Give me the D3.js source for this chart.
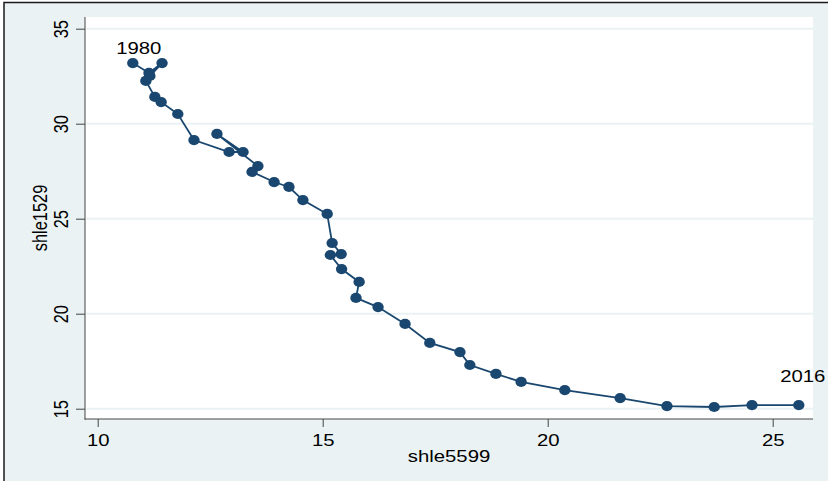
<!DOCTYPE html>
<html>
<head>
<meta charset="utf-8">
<script src="https://cdn.jsdelivr.net/npm/d3@7"></script>
<style>
body { margin: 0; background: #fff; }
text { font-family: "Liberation Sans", Arial, sans-serif; }
</style>
</head>
<body>
<div id="chart"></div>
<script>
// in data order (first point = 1980, last = 2016)
var shle5599 = [10.78, 11.14, 11.43, 11.16, 11.07, 11.27, 11.41, 11.78, 12.14, 12.92,
    13.23, 12.65, 13.56, 13.43, 13.92, 14.25, 14.56, 15.10, 15.21, 15.41,
    15.17, 15.42, 15.81, 15.74, 16.23, 16.83, 17.38, 18.05, 18.27, 18.85,
    19.41, 20.38, 21.61, 22.65, 23.70, 24.54, 25.58];
var shle1529 = [33.19, 32.67, 33.19, 32.51, 32.25, 31.41, 31.14, 30.51, 29.14, 28.51,
    28.51, 29.46, 27.77, 27.46, 26.93, 26.67, 25.98, 25.25, 23.72, 23.14,
    23.09, 22.35, 21.67, 20.83, 20.35, 19.46, 18.46, 17.98, 17.30, 16.83,
    16.41, 15.98, 15.56, 15.14, 15.09, 15.19, 15.19];
var firstYear = "1980";
var lastYear = "2016";
var xTicks = [10, 15, 20, 25];
var yTicks = [15, 20, 25, 30, 35];

var stretch = 1.24; // the picture is wider than it is tall
var navy = "#1a476f";
var fontSize = 16.4;

var svg = d3.select("#chart")
    .append("svg")
    .attr("width", 828)
    .attr("height", 481);

// graph region with its frame (cut off at right and bottom)
svg.append("rect")
    .attr("x", 4).attr("y", 2.5)
    .attr("width", 900).attr("height", 600)
    .attr("fill", "#eaf2f3")
    .attr("stroke", "#1a1a1a")
    .attr("stroke-width", 1.5);

// plot region
svg.append("rect")
    .attr("x", 85).attr("y", 17)
    .attr("width", 728).attr("height", 402)
    .attr("fill", "#fff");

var x = d3.scaleLinear().domain([10, 25]).range([97.7, 772.7]);
var y = d3.scaleLinear().domain([15, 35]).range([408.7, 28.7]);

// grid lines
svg.selectAll(".grid")
    .data(yTicks)
    .enter().append("line")
    .attr("class", "grid")
    .attr("x1", 86).attr("x2", 813)
    .attr("y1", d => y(d)).attr("y2", d => y(d))
    .attr("stroke", "#eaf2f3")
    .attr("stroke-width", 2);

// x axis
var xAxis = svg.append("g")
    .attr("transform", "translate(0,419)")
    .call(d3.axisBottom(x).tickValues(xTicks).tickSize(8).tickSizeOuter(0));
xAxis.select(".domain").remove();
xAxis.selectAll("line").attr("stroke", "#444");
xAxis.selectAll("text")
    .attr("y", 27).attr("dy", null)
    .attr("font-size", fontSize)
    .attr("fill", "#000")
    .attr("text-anchor", "middle")
    .attr("transform", "scale(" + stretch + ",1)");

// y axis
var yAxis = svg.append("g")
    .attr("transform", "translate(85,0)")
    .call(d3.axisLeft(y).tickValues(yTicks).tickSize(9).tickSizeOuter(0));
yAxis.select(".domain").remove();
yAxis.selectAll("line").attr("stroke", "#444");
yAxis.selectAll("text")
    .attr("x", 0).attr("y", -17 / stretch).attr("dy", null)
    .attr("font-size", fontSize)
    .attr("fill", "#000")
    .attr("text-anchor", "middle")
    .attr("transform", "scale(" + stretch + ",1) rotate(-90)");

// axis lines
svg.append("line")
    .attr("x1", 85).attr("x2", 85).attr("y1", 17).attr("y2", 419.5)
    .attr("stroke", "#444");
svg.append("line")
    .attr("x1", 84.5).attr("x2", 813).attr("y1", 419).attr("y2", 419)
    .attr("stroke", "#444");

// axis titles
svg.append("text")
    .attr("transform", "translate(449,462) scale(" + stretch + ",1)")
    .attr("text-anchor", "middle")
    .attr("font-size", fontSize)
    .text("shle5599");
svg.append("text")
    .attr("transform", "translate(47,218) scale(" + stretch + ",1) rotate(-90)")
    .attr("text-anchor", "middle")
    .attr("font-size", fontSize)
    .text("shle1529");

// connected scatter
var points = shle5599.map(function (v, i) {
    return { sx: v, sy: shle1529[i] };
});

var line = d3.line()
    .x(function(d) { return x(d.sx); })
    .y(function(d) { return y(d.sy); });

svg.append("path")
    .datum(points)
    .attr("d", line)
    .attr("stroke", navy)
    .attr("stroke-width", 1.8)
    .attr("fill", "none");

svg.selectAll(".dot")
    .data(points)
    .enter().append("ellipse")
    .attr("class", "dot")
    .attr("cx", d => x(d.sx))
    .attr("cy", d => y(d.sy))
    .attr("rx", 5.7)
    .attr("ry", 5.1)
    .attr("fill", navy);

// year labels on the first and last point
var first = points[0], last = points[points.length - 1];
svg.append("text")
    .attr("transform", "translate(" + (x(first.sx) + 6) + "," + (y(first.sy) - 9) + ") scale(" + stretch + ",1)")
    .attr("text-anchor", "middle")
    .attr("font-size", fontSize)
    .text(firstYear);
svg.append("text")
    .attr("transform", "translate(" + (x(last.sx) + 4) + "," + (y(last.sy) - 23) + ") scale(" + stretch + ",1)")
    .attr("text-anchor", "middle")
    .attr("font-size", fontSize)
    .text(lastYear);
</script>
</body>
</html>
